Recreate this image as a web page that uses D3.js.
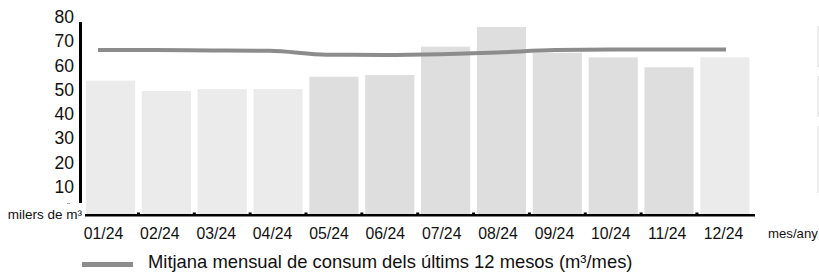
<!DOCTYPE html>
<html>
<head>
<meta charset="utf-8">
<script src="https://cdn.jsdelivr.net/npm/d3@7"></script>
<style>
  html, body { margin: 0; padding: 0; background: #fff; }
  svg { display: block; font-family: "Liberation Sans", Arial, sans-serif; }
</style>
</head>
<body>
<svg id="chart" width="819" height="273"></svg>
<script>
// ======== DATA ========
const months = ['01/24', '02/24', '03/24', '04/24', '05/24', '06/24',
                '07/24', '08/24', '09/24', '10/24', '11/24', '12/24'];
// monthly consumption (thousands of m³)
const consum = [55, 50.7, 51.5, 51.5, 56.6, 57.3, 69, 77.1, 66.5, 64.6, 60.5, 64.6];
// 12-month rolling average
const mitjana = [67.6, 67.6, 67.4, 67.3, 65.7, 65.6, 65.9, 66.6, 67.6, 67.8, 67.8, 67.8];
// bar shade group per month
const shade = ['a', 'a', 'a', 'a', 'b', 'b', 'b', 'b', 'b', 'b', 'b', 'a'];
const yTicks = [10, 20, 30, 40, 50, 60, 70, 80];
const legendLabel = 'Mitjana mensual de consum dels últims 12 mesos (m³/mes)';

const svg = d3.select('#chart');

// ----- scales -----
const x = d3.scaleBand().domain(months).range([82.6, 752.8])
    .paddingInner(0.12).paddingOuter(0.06);
const xLabel = d3.scalePoint().domain(months).range([103.5, 723.5]);
const xLine = d3.scalePoint().domain(months).range([98, 726]);
const y = d3.scaleLinear().domain([0, 80]).range([214, 20]);
const color = d3.scaleOrdinal().domain(['a', 'b']).range(['#ebebeb', '#dedede']);

// ----- bars -----
svg.append('g').selectAll('rect')
    .data(months)
    .join('rect')
    .attr('x', (d, i) => x(d))
    .attr('y', (d, i) => y(consum[i]))
    .attr('width', x.bandwidth())
    .attr('height', (d, i) => y(0) - y(consum[i]))
    .attr('fill', (d, i) => color(shade[i]));

// ----- average line -----
const line = d3.line()
    .x((d, i) => xLine(months[i]))
    .y(d => y(d))
    .curve(d3.curveMonotoneX);

svg.append('path')
    .datum(mitjana)
    .attr('d', line)
    .attr('fill', 'none')
    .attr('stroke', '#8c8c8c')
    .attr('stroke-width', 4);

// ----- y axis -----
svg.append('line')
    .attr('x1', 80.5).attr('x2', 80.5)
    .attr('y1', 22).attr('y2', 203)
    .attr('stroke', '#000').attr('stroke-width', 3);

svg.append('g').selectAll('text')
    .data(yTicks)
    .join('text')
    .attr('x', 74)
    .attr('y', d => y(d) - 3)
    .attr('dy', '0.35em')
    .attr('text-anchor', 'end')
    .attr('font-size', 17.5)
    .attr('fill', '#111')
    .text(d => d);

svg.append('line')
    .attr('x1', 67).attr('x2', 70)
    .attr('y1', 203.5).attr('y2', 203.5)
    .attr('stroke', '#aaa').attr('stroke-width', 1);

svg.append('text')
    .attr('x', 82).attr('y', 214)
    .attr('dy', '0.35em')
    .attr('text-anchor', 'end')
    .attr('font-size', 13.5)
    .attr('fill', '#111')
    .text('milers de m³');

// ----- x axis -----
svg.append('line')
    .attr('x1', 85).attr('x2', 755)
    .attr('y1', 215.2).attr('y2', 215.2)
    .attr('stroke', '#000').attr('stroke-width', 2.4);

// small ticks between bars
svg.append('g').selectAll('rect')
    .data(months.slice(1))
    .join('rect')
    .attr('x', d => x(d) - x.step() * x.paddingInner() / 2 - 1.5)
    .attr('y', 212.5)
    .attr('width', 3)
    .attr('height', 2)
    .attr('fill', '#000');

svg.append('g').selectAll('text')
    .data(months)
    .join('text')
    .attr('x', d => xLabel(d))
    .attr('y', 233)
    .attr('dy', '0.35em')
    .attr('text-anchor', 'middle')
    .attr('font-size', 15.8)
    .attr('fill', '#111')
    .text(d => d);

svg.append('text')
    .attr('x', 768).attr('y', 233)
    .attr('dy', '0.35em')
    .attr('font-size', 13.2)
    .attr('fill', '#111')
    .text('mes/any');

// ----- legend -----
svg.append('line')
    .attr('x1', 82).attr('x2', 133)
    .attr('y1', 264.5).attr('y2', 264.5)
    .attr('stroke', '#8c8c8c').attr('stroke-width', 5);

svg.append('text')
    .attr('x', 148).attr('y', 262)
    .attr('dy', '0.35em')
    .attr('font-size', 18.4)
    .attr('fill', '#111')
    .text(legendLabel);

// faint strips on the right edge
const strips = [[26, 67], [76, 117], [126, 193]];
svg.append('g').selectAll('rect')
    .data(strips)
    .join('rect')
    .attr('x', 817).attr('width', 2)
    .attr('y', d => d[0])
    .attr('height', d => d[1] - d[0])
    .attr('fill', '#ececec');
</script>
</body>
</html>
